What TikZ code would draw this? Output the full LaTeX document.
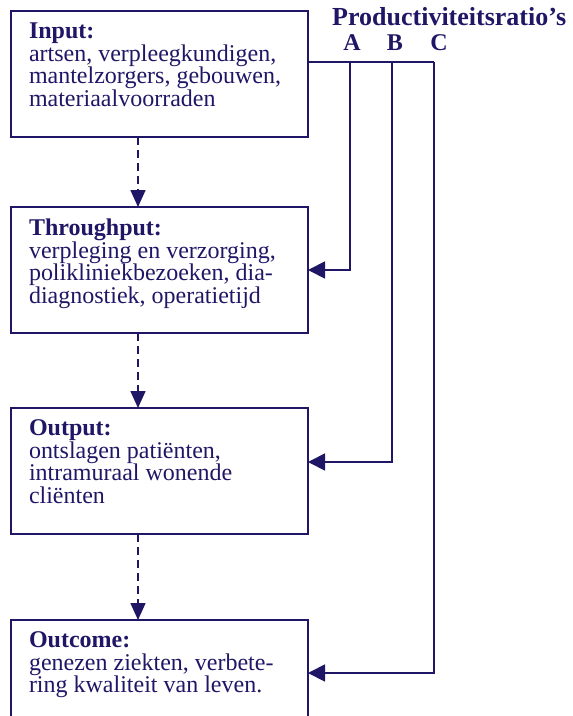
\documentclass[tikz,border=0pt]{standalone}
\usepackage{fontspec}
\setmainfont{Liberation Serif}
\usetikzlibrary{arrows.meta}
\definecolor{ink}{RGB}{32,22,102}

\tikzset{
  stage/.style={draw=ink, line width=1.8pt, anchor=north west, outer sep=0pt,
    inner xsep=18pt, inner ysep=12pt, text=ink},
  ratio/.style={draw=ink, line width=1.8pt, -{Triangle[length=17pt,width=17pt]}},
  flow/.style={draw=ink, line width=1.6pt, dash pattern=on 8pt off 5pt,
    -{Triangle[length=17pt,width=15pt]}},
  label/.style={text=ink, font=\fontsize{24}{26}\selectfont\bfseries, inner sep=0pt},
}
\newcommand{\stagetext}[2]{\parbox[t][102pt][t]{261pt}{\fontsize{24}{22.5}\selectfont
  \textbf{#1}\\#2}}

\begin{document}
\begin{tikzpicture}[x=1pt,y=-1pt]
\useasboundingbox (0,0) rectangle (573,716);
\clip (0,0) rectangle (573,716);

% the four stages
\node[stage] (input) at (11,11) {\stagetext{Input:}{artsen, verpleegkundigen,\\
  mantelzorgers, gebouwen,\\materiaalvoorraden}};
\node[stage] (through) at (11,207) {\stagetext{Throughput:}{verpleging en verzorging,\\
  polikliniekbezoeken, dia-\\diagnostiek, operatietijd}};
\node[stage] (output) at (11,408) {\stagetext{Output:}{ontslagen patiënten,\\
  intramuraal wonende\\cliënten}};
\node[stage] (outcome) at (11,620) {\stagetext{Outcome:}{genezen ziekten, verbete-\\
  ring kwaliteit van leven.}};

% ratios
\node[label, font=\fontsize{26}{28}\selectfont\bfseries, anchor=base west] (title)
  at (332,25) {Productiviteitsratio’s};
\node[label, anchor=base] (ratioA) at (352,50) {A};
\node[label, anchor=base] (ratioB) at (395,50) {B};
\node[label, anchor=base] (ratioC) at (439,50) {C};

\coordinate (tapA) at (350,62);
\coordinate (tapB) at (392,62);
\coordinate (tapC) at (434,62);
\coordinate (endB) at (392,462);
\coordinate (endC) at (434,673);
\coordinate (spine) at (138,0);

\draw[draw=ink, line width=1.8pt] (input.east |- tapC) -- (tapC);
\draw[ratio] (tapA) |- (through.east);
\draw[ratio] (tapB) -- (endB) -- (output.east |- endB);
\draw[ratio] (tapC) -- (endC) -- (outcome.east |- endC);

% flow between stages
\draw[flow] (input.south -| spine) -- (through.north -| spine);
\draw[flow] (through.south -| spine) -- (output.north -| spine);
\draw[flow] (output.south -| spine) -- (outcome.north -| spine);
\end{tikzpicture}
\end{document}
